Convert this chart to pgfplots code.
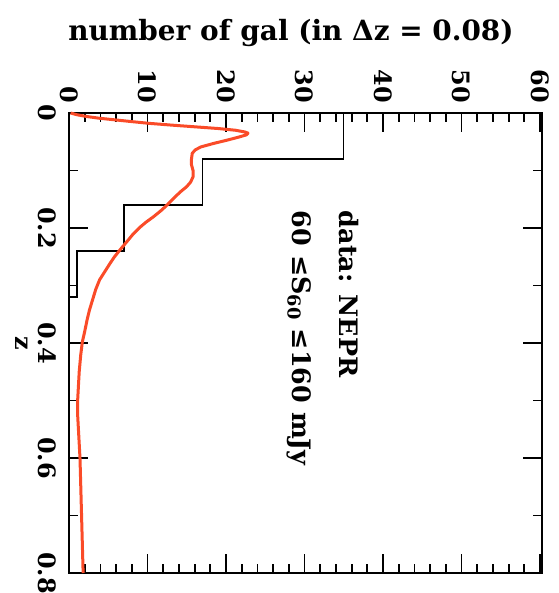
\documentclass[border=0pt]{standalone}
\usepackage{fontspec}
\setmainfont{DejaVu Serif}
\usepackage{pgfplots}
\pgfplotsset{compat=1.18}
\definecolor{curvered}{RGB}{250,75,40}

\pgfplotstableread{
z n
0.000 0.2
0.003 1.0
0.006 2.2
0.009 3.8
0.012 5.9
0.015 8.0
0.018 10.2
0.021 13.0
0.024 16.0
0.027 19.0
0.030 21.2
0.033 22.4
0.035 22.8
0.038 22.6
0.042 21.6
0.047 20.2
0.053 18.4
0.059 16.8
0.064 16.1
0.070 15.7
0.080 15.6
0.090 15.6
0.100 15.8
0.111 15.8
0.120 15.5
0.128 15.0
0.137 14.2
0.150 13.2
0.160 12.5
0.170 11.7
0.180 10.8
0.190 9.8
0.198 9.1
0.210 8.2
0.220 7.6
0.238 6.5
0.250 5.8
0.260 5.3
0.275 4.6
0.290 3.9
0.307 3.4
0.325 3.0
0.343 2.6
0.360 2.3
0.380 2.0
0.398 1.7
0.420 1.5
0.450 1.3
0.475 1.2
0.500 1.1
0.525 1.1
0.550 1.2
0.575 1.3
0.600 1.4
0.650 1.5
0.700 1.6
0.750 1.7
0.800 1.8
}\curve

\pgfplotstableread{
z n
0.00 35
0.08 35
0.08 17
0.16 17
0.16 7
0.24 7
0.24 1
0.32 1
0.32 0
}\hist

\begin{document}
\begin{tikzpicture}[font=\bfseries\fontsize{24}{28}\selectfont]
\begin{axis}[
  scale only axis, width=473bp, height=460bp,
  xmin=0, xmax=60.25, ymin=0, ymax=0.8, y dir=reverse,
  axis line style={line width=2bp},
  xtick distance=10, minor x tick num=4,
  ytick distance=0.2, minor y tick num=1,
  tick align=inside, xtick pos=both, ytick pos=both,
  xticklabel pos=right, yticklabel pos=left,
  major tick length=19bp, minor tick length=9bp,
  every tick/.style={black, line width=1.8bp},
  /pgf/number format/assume math mode=true,
  xticklabel style={yshift=8bp, rotate=-90, anchor=east, inner sep=2bp},
  yticklabel style={xshift=-11bp, rotate=-90, anchor=north, inner sep=2bp},
  clip=false,
]
\addplot[black, line width=1.4bp, no markers] table[x=n, y=z] {\hist};
\addplot[curvered, line width=3bp, no markers, line join=round] table[x=n, y=z] {\curve};
\node[rotate=-90, anchor=north west, align=left, inner sep=0pt,
      font=\bfseries\fontsize{25.5}{47}\selectfont] at (axis cs:36.9,0.17)
  {data: NEPR\\60 ≤S\textsubscript{60} ≤160 mJy};
\end{axis}
\node[anchor=base, font=\bfseries\fontsize{28}{32}\selectfont] at ([shift={(222bp,72bp)}]current axis.north west) {number of gal (in Δz = 0.08)};
\node[rotate=-90] at ([xshift=-47bp]current axis.west) {z};
\pgfresetboundingbox
\path ([shift={(-69bp,113bp)}]current axis.north west) rectangle ([shift={(16bp,-20bp)}]current axis.south east);
\end{tikzpicture}
\end{document}
